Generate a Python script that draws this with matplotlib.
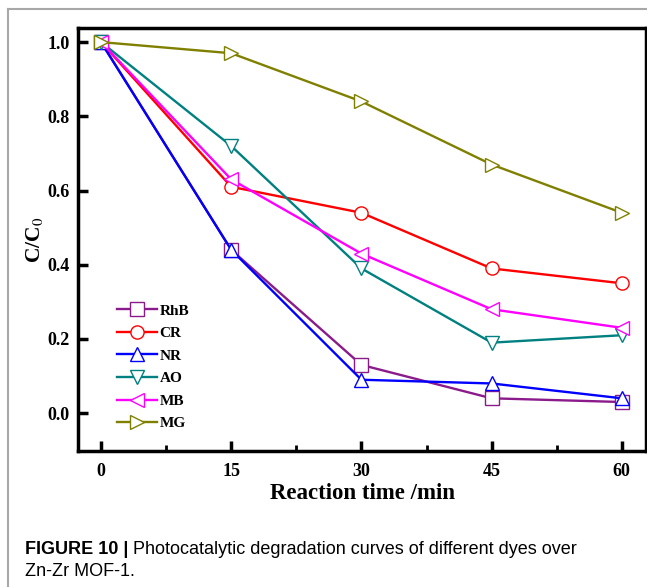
import numpy as np
import matplotlib.pyplot as plt
from matplotlib.lines import Line2D

# Tiempos de reacción (min) y C/C0 de cada colorante
time = [0, 15, 30, 45, 60]
rhb = [1.0, 0.44, 0.13, 0.04, 0.03]
cr = [1.0, 0.61, 0.54, 0.39, 0.35]
nr = [1.0, 0.44, 0.09, 0.08, 0.04]
ao = [1.0, 0.72, 0.39, 0.19, 0.21]
mb = [1.0, 0.63, 0.43, 0.28, 0.23]
mg = [1.0, 0.97, 0.84, 0.67, 0.54]

names = ['RhB', 'CR', 'NR', 'AO', 'MB', 'MG']
series = [rhb, cr, nr, ao, mb, mg]
colors = ['#8B1A8B', '#FF0000', '#0000FF', '#008080', '#FF00FF', '#808000']
markers = ['s', 'o', '^', 'v', '<', '>']

serif = ['Liberation Serif', 'DejaVu Serif']
sans = ['Liberation Sans', 'DejaVu Sans']
plt.rcParams['mathtext.fontset'] = 'stix'

fig = plt.figure(figsize=(6.47, 5.87), dpi=100)
ax = fig.add_axes([0.1206, 0.2317, 0.878, 0.7206])

for name, vals, c, m in zip(names, series, colors, markers):
    ax.plot(time, vals, color=c, lw=1.7, marker=m, markersize=9.5,
            markerfacecolor='white', markeredgecolor=c, markeredgewidth=1,
            label=name)

ax.set_xlim(-2.65, 62.8)
ax.set_ylim(-0.102, 1.038)
ax.set_xticks([0, 15, 30, 45, 60])
ax.set_xticks([7.5, 22.5, 37.5, 52.5], minor=True)
ax.set_yticks([0.0, 0.2, 0.4, 0.6, 0.8, 1.0])
ax.set_yticklabels(['0.0', '0.2', '0.4', '0.6', '0.8', '1.0'])

for s in ax.spines.values():
    s.set_linewidth(2.5)
ax.tick_params(which='major', direction='in', length=7, width=2.5,
               labelsize=13, pad=6)
ax.tick_params(axis='x', which='major', pad=9)
ax.tick_params(which='minor', direction='in', length=4, width=2)
for lab in ax.get_xticklabels() + ax.get_yticklabels():
    lab.set_family(serif)
    lab.set_fontweight('bold')

ax.set_xlabel('Reaction time /min', family=serif, fontweight='bold',
              fontsize=16.5, labelpad=2)
ax.set_ylabel('C/C$_0$', family=serif, fontweight='bold', fontsize=15.5,
              labelpad=2)

leg = ax.legend(loc='upper left', bbox_to_anchor=(0.045, 0.38), frameon=False,
                prop={'family': serif, 'weight': 'bold', 'size': 11},
                handlelength=2.6, handletextpad=0.15, labelspacing=0.58)

# Marco del pie de figura
fig.add_artist(Line2D([8 / 647, 1.0], [1 - 9 / 587, 1 - 9 / 587],
                      transform=fig.transFigure, color='#a8a8a8', lw=1.5))
fig.add_artist(Line2D([8 / 647, 8 / 647], [0, 1 - 9 / 587],
                      transform=fig.transFigure, color='#a8a8a8', lw=1.5))

# Pie de figura
t1 = fig.text(25 / 647, 1 - 549 / 587, 'FIGURE 10 | ', family=sans,
              fontweight='bold', fontsize=13, va='center')
fig.canvas.draw()
bb = t1.get_window_extent()
fig.text(bb.x1 / fig.bbox.width, 1 - 549 / 587,
         'Photocatalytic degradation curves of different dyes over',
         family=sans, fontsize=13, va='center')
fig.text(25 / 647, 1 - 572 / 587, 'Zn-Zr MOF-1.', family=sans,
         fontsize=13, va='center')

fig.savefig('out.png', dpi=100)
